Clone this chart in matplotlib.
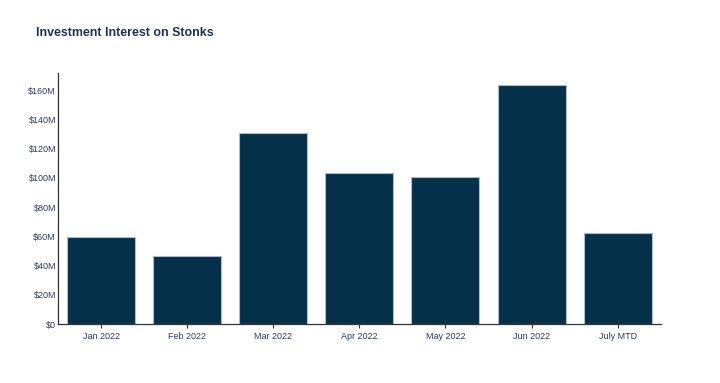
import matplotlib.pyplot as plt
from matplotlib.ticker import FuncFormatter

plt.rcParams['font.family'] = ['Liberation Sans', 'DejaVu Sans']

months = ['Jan 2022', 'Feb 2022', 'Mar 2022', 'Apr 2022', 'May 2022', 'Jun 2022', 'July MTD']
interest_m = [59.7, 46.6, 130.6, 103.4, 100.4, 163.4, 62.5]  # $ millions

bar_color = '#05304a'
text_color = '#2a3a5a'

fig = plt.figure(figsize=(7.2, 3.83), dpi=100)
ax = fig.add_axes([0.0806, 0.154, 0.837, 0.655])

ax.bar(range(len(months)), interest_m, width=0.79, color=bar_color,
       edgecolor='#a9bccb', linewidth=0.8)

ax.set_xlim(-0.5, len(months) - 0.5)
ax.set_ylim(0, 171.6)
ax.set_yticks(range(0, 161, 20))
ax.yaxis.set_major_formatter(FuncFormatter(lambda v, p: '$0' if v == 0 else f'${int(v)}M'))
ax.set_xticks(range(len(months)))
ax.set_xticklabels(months)

for s in ['top', 'right']:
    ax.spines[s].set_visible(False)
for s in ['left', 'bottom']:
    ax.spines[s].set_color('#333333')
    ax.spines[s].set_linewidth(0.9)

ax.tick_params(axis='y', length=0, pad=1.5, labelsize=6.5, labelcolor=text_color)
ax.tick_params(axis='x', length=3, width=0.8, color='#333333', pad=3,
               labelsize=6.5, labelcolor=text_color)

fig.text(36 / 720, 1 - 33 / 383, 'Investment Interest on Stonks', fontsize=8.9,
         fontweight='bold', color='#1f3050', va='center', ha='left')

fig.savefig('out.png', dpi=100)
